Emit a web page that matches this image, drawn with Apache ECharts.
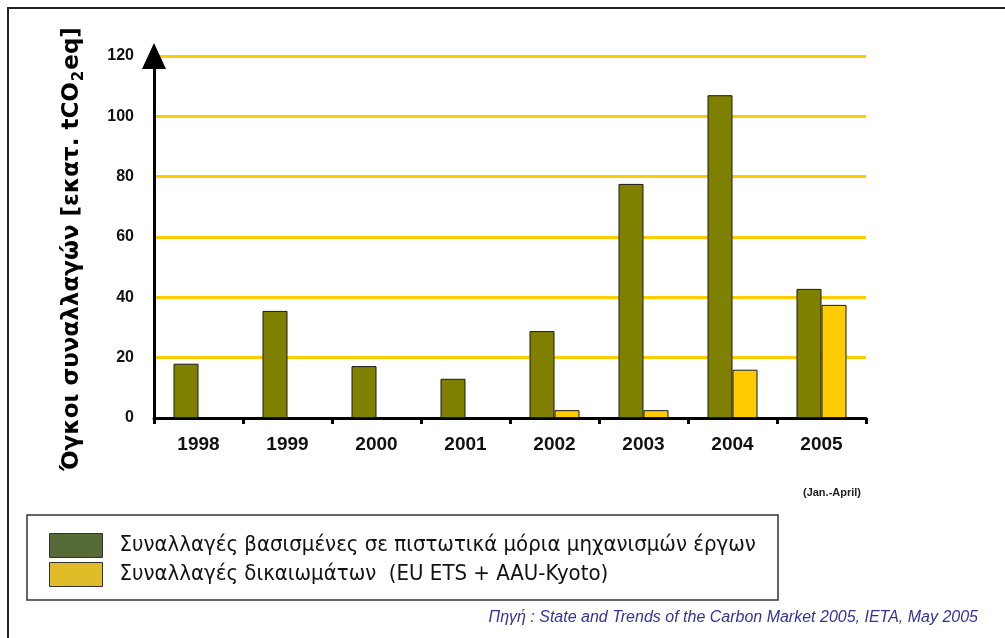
<!DOCTYPE html>
<html>
<head>
<meta charset="utf-8">
<script src="https://cdn.jsdelivr.net/npm/echarts@6/dist/echarts.min.js"></script>
<style>
html,body{margin:0;padding:0;background:#fff;}
#chart{width:1005px;height:638px;}
</style>
</head>
<body>
<div id="chart"></div>
<script>
var years = ['1998','1999','2000','2001','2002','2003','2004','2005'];
var projectCredits = [18, 35.5, 17.2, 13, 28.8, 77.6, 107, 42.8];
var allowances = [null, null, null, null, 2.6, 2.6, 16, 37.5];
var seriesNames = ['Συναλλαγές βασισμένες σε πιστωτικά μόρια μηχανισμών έργων', 'Συναλλαγές δικαιωμάτων  (EU ETS + AAU-Kyoto)'];
var yTitle = ['Όγκοι συναλλαγών [εκατ. tCO', '2', 'eq]'];
var sourceText = 'Πηγή : State and Trends of the Carbon Market 2005, IETA, May 2005';
var periodNote = '(Jan.-April)';

var SANS = '"Liberation Sans", Arial, sans-serif';

var chart = echarts.init(document.getElementById('chart'));
chart.setOption({
  animation: false,
  backgroundColor: '#ffffff',
  grid: {left: 154, right: 139, top: 56, bottom: 220, containLabel: false},
  xAxis: {
    type: 'category',
    data: years,
    boundaryGap: true,
    axisLine: {show: true, lineStyle: {color: '#000', width: 3}},
    axisTick: {show: true, alignWithLabel: false, length: 6, lineStyle: {color: '#000', width: 3}},
    axisLabel: {color: '#111', fontFamily: SANS, fontWeight: 'bold', fontSize: 19, margin: 17},
    splitLine: {show: false}
  },
  yAxis: {
    type: 'value',
    min: 0, max: 120, interval: 20,
    name: '{a|' + yTitle[0] + '}{s|' + yTitle[1] + '}{a|' + yTitle[2] + '}',
    nameLocation: 'middle',
    nameRotate: 90,
    nameGap: 67,
    nameTextStyle: {
      padding: [0, 24, 0, 0],
      rich: {
        a: {fontFamily: '"DejaVu Sans", sans-serif', fontWeight: 'bold', fontSize: 23, color: '#000', lineHeight: 30, verticalAlign: 'middle'},
        s: {fontFamily: '"DejaVu Sans", sans-serif', fontWeight: 'bold', fontSize: 15, color: '#000', lineHeight: 30, padding: [14, 1, 0, 1], verticalAlign: 'middle'}
      }
    },
    axisLine: {show: true, lineStyle: {color: '#000', width: 3}, symbol: ['none', 'triangle'], symbolSize: [24, 26]},
    axisTick: {show: false},
    axisLabel: {color: '#111', fontFamily: SANS, fontWeight: 'bold', fontSize: 16, margin: 20},
    splitLine: {show: true, lineStyle: {color: '#FFCC00', width: 3}}
  },
  legend: {
    orient: 'vertical',
    left: 44, top: 528,
    itemWidth: 53, itemHeight: 24, itemGap: 4,
    icon: 'rect',
    textStyle: {fontFamily: '"DejaVu Sans Condensed", "DejaVu Sans"', fontSize: 22, color: '#111', padding: [0, 0, 0, 12]},
    data: [
      {name: seriesNames[0], itemStyle: {color: '#566B38', borderColor: '#333', borderWidth: 1}},
      {name: seriesNames[1], itemStyle: {color: '#E0BC28', borderColor: '#333', borderWidth: 1}}
    ]
  },
  series: [
    {name: seriesNames[0], type: 'bar', data: projectCredits, barWidth: 25, barGap: '0%',
     itemStyle: {color: '#808000', borderColor: '#1a1a1a', borderWidth: 1}},
    {name: seriesNames[1], type: 'bar', data: allowances, barWidth: 25, barGap: '0%',
     itemStyle: {color: '#FFCC00', borderColor: '#1a1a1a', borderWidth: 1}}
  ],
  graphic: [
    {type: 'rect', shape: {x: 8, y: 8, width: 1100, height: 700}, style: {fill: 'none', stroke: '#222', lineWidth: 2}, silent: true},
    {type: 'rect', shape: {x: 27, y: 515, width: 751, height: 85}, style: {fill: 'none', stroke: '#333', lineWidth: 1.5}, silent: true},
    {type: 'text', x: 832, y: 493,
     style: {text: periodNote, fontFamily: SANS, fontWeight: 'bold', fontSize: 11, fill: '#222', align: 'center', verticalAlign: 'middle'}},
    {type: 'text', x: 978, y: 618,
     style: {text: sourceText, fontFamily: SANS, fontStyle: 'italic', fontSize: 16, fill: '#333399', align: 'right', verticalAlign: 'middle'}}
  ]
});
</script>
</body>
</html>
